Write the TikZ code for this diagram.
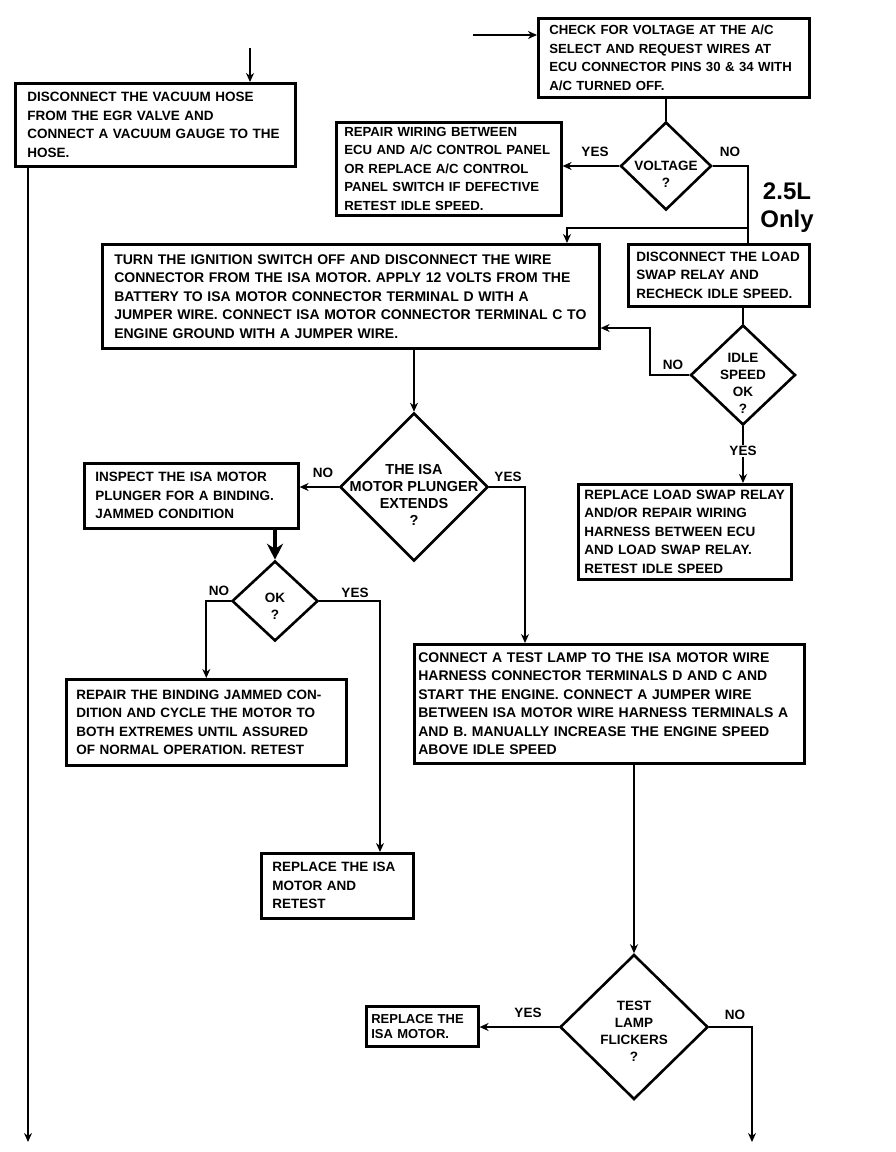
\documentclass[tikz,border=0pt]{standalone}
\usepackage{fontspec}
\setmainfont{Liberation Sans}
\usetikzlibrary{shapes.geometric, arrows.meta}
\usetikzlibrary{calc}
\newcommand{\boxfont}[1]{\fontsize{#1}{18.5}\selectfont\bfseries}
\tikzstyle{stepbox} = [draw=black, line width=2.6pt, anchor=north west, inner xsep=8pt, inner ysep=2pt, align=left, font=\boxfont{13.5}]
\tikzstyle{decision} = [diamond, draw=black, line width=2.6pt, inner sep=0pt]
\tikzstyle{dec_text} = [align=center, inner sep=0pt, font=\fontsize{13.5}{17}\selectfont\bfseries]
\tikzstyle{answer} = [font=\fontsize{13.5}{14}\selectfont\bfseries]
\tikzstyle{line} = [line width=1.9pt]
\tikzstyle{arrow} = [line width=1.9pt,-{Stealth[length=9pt,width=8pt]}]

\begin{document}
\begin{tikzpicture}[x=1pt, y=-1pt]
        \useasboundingbox (0,0) rectangle (896,1152);

        % boxes
        \node (vac) at (14,82) [stepbox, inner xsep=12pt, text width=256pt, minimum height=83pt]
            {DISCONNECT THE VACUUM HOSE\\FROM THE EGR VALVE AND\\CONNECT A VACUUM GAUGE TO THE\\HOSE.};
        \node (check) at (537,17) [stepbox, inner xsep=11pt, text width=249pt, minimum height=79pt, font=\boxfont{13.2}]
            {CHECK FOR VOLTAGE AT THE A/C\\SELECT AND REQUEST WIRES AT\\ECU CONNECTOR PINS 30 \& 34 WITH\\A/C TURNED OFF.};
        \node (wiring) at (335,121) [stepbox, text width=209pt, minimum height=93pt, font=\boxfont{13.2}]
            {REPAIR WIRING BETWEEN\\ECU AND A/C CONTROL PANEL\\OR REPLACE A/C CONTROL\\PANEL SWITCH IF DEFECTIVE\\RETEST IDLE SPEED.};
        \node (isa) at (101,243) [stepbox, inner xsep=12pt, text width=473pt, minimum height=104pt, font=\boxfont{14}]
            {TURN THE IGNITION SWITCH OFF AND DISCONNECT THE WIRE\\CONNECTOR FROM THE ISA MOTOR. APPLY 12 VOLTS FROM THE\\BATTERY TO ISA MOTOR CONNECTOR TERMINAL D WITH A\\JUMPER WIRE. CONNECT ISA MOTOR CONNECTOR TERMINAL C TO\\ENGINE GROUND WITH A JUMPER WIRE.};
        \node (load) at (627,243) [stepbox, text width=165pt, minimum height=62pt]
            {DISCONNECT THE LOAD\\SWAP RELAY AND\\RECHECK IDLE SPEED.};
        \node (relay) at (577,483) [stepbox, inner xsep=6pt, text width=201pt, minimum height=95pt]
            {REPLACE LOAD SWAP RELAY\\AND/OR REPAIR WIRING\\HARNESS BETWEEN ECU\\AND LOAD SWAP RELAY.\\RETEST IDLE SPEED};
        \node (inspect) at (83,462) [stepbox, inner xsep=11pt, text width=192pt, minimum height=65pt]
            {INSPECT THE ISA MOTOR\\PLUNGER FOR A BINDING.\\JAMMED CONDITION};
        \node (binding) at (65,678) [stepbox, inner xsep=10pt, text width=260pt, minimum height=86pt]
            {REPAIR THE BINDING JAMMED CON-\\DITION AND CYCLE THE MOTOR TO\\BOTH EXTREMES UNTIL ASSURED\\OF NORMAL OPERATION. RETEST};
        \node (replisa) at (260,852) [stepbox, inner xsep=11pt, text width=130pt, minimum height=65pt]
            {REPLACE THE ISA\\MOTOR AND\\RETEST};
        \node (lamp) at (413,643) [stepbox, inner xsep=4pt, text width=382pt, minimum height=119pt, font=\boxfont{14}]
            {CONNECT A TEST LAMP TO THE ISA MOTOR WIRE\\HARNESS CONNECTOR TERMINALS D AND C AND\\START THE ENGINE. CONNECT A JUMPER WIRE\\BETWEEN ISA MOTOR WIRE HARNESS TERMINALS A\\AND B. MANUALLY INCREASE THE ENGINE SPEED\\ABOVE IDLE SPEED};
        \node (motor) at (365,1005) [stepbox, inner xsep=5pt, text width=102pt, minimum height=40pt, font=\fontsize{13}{15}\selectfont\bfseries]
            {REPLACE THE\\ISA MOTOR.};

        % decisions
        \node (volt) at (666,166) [decision, minimum width=91pt, minimum height=88pt] {};
        \node (volt_t) at (666,174) [dec_text] {VOLTAGE\\?};
        \node (idle) at (743,375) [decision, minimum width=105pt, minimum height=100pt] {};
        \node (idle_t) at (743,383) [dec_text] {IDLE\\SPEED\\OK\\?};
        \node (plunger) at (414,487) [decision, minimum width=148pt, minimum height=148pt] {};
        \node (plunger_t) at (414,495) [dec_text, font=\fontsize{14.5}{17}\selectfont\bfseries] {THE ISA\\MOTOR PLUNGER\\EXTENDS\\?};
        \node (ok) at (275,601) [decision, minimum width=86pt, minimum height=80pt] {};
        \node (ok_t) at (275,606) [dec_text] {OK\\?};
        \node (flick) at (634,1027) [decision, minimum width=148pt, minimum height=145pt] {};
        \node (flick_t) at (634,1031) [dec_text] {TEST\\LAMP\\FLICKERS\\?};

        \node (only) at (787,208) [align=center, font=\fontsize{24}{28}\selectfont\bfseries] {2.5L\\Only};

        % free ends and bends
        \coordinate (in_vac) at (250,48);
        \coordinate (in_check) at (473,35);
        \coordinate (out_left) at (28,1142);
        \coordinate (out_right) at (752,1142);
        \coordinate (split) at (748,228);
        \coordinate (to_isa) at (567,228);
        \coordinate (idle_back) at (650,328);
        \coordinate (plunger_bend) at (525,487);
        \coordinate (ok_bend) at (380,601);

        \draw[arrow] (in_vac) -- (in_vac |- vac.north);
        \draw[arrow] (out_left |- vac.south) -- (out_left);
        \draw[arrow] (in_check) -- (in_check -| check.west);

        \draw[line] (volt.north |- check.south) -- (volt.north);
        \draw[arrow] (volt.west) -- (volt.west -| wiring.east);
        \draw[line] (volt.east) -| (split) -- (split |- load.north);
        \draw[arrow] (split) -- (to_isa) -- (to_isa |- isa.north);

        \draw[line] (idle.north |- load.south) -- (idle.north);
        \draw[arrow] (idle.west) -| (idle_back) -- (idle_back -| isa.east);
        \draw[arrow] (idle.south) -- (idle.south |- relay.north);

        \draw[arrow] (plunger.north |- isa.south) -- (plunger.north);
        \draw[arrow] (plunger.west) -- (plunger.west -| inspect.east);
        \draw[arrow] (plunger.east) -- (plunger_bend) -- (plunger_bend |- lamp.north);

        \draw[line width=4pt, -{Stealth[length=16pt,width=16pt]}] (ok.north |- inspect.south) -- (ok.north);
        \draw[arrow] (ok.west) -| (binding.north);
        \draw[arrow] (ok.east) -- (ok_bend) -- (ok_bend |- replisa.north);

        \draw[arrow] (flick.north |- lamp.south) -- (flick.north);
        \draw[arrow] (flick.west) -- (flick.west -| motor.east);
        \draw[arrow] (flick.east) -| (out_right);

        % answers
        \node (volt_yes) at (595,152) [answer] {YES};
        \node (volt_no) at (730,152) [answer] {NO};
        \node (idle_no) at (673,365) [answer] {NO};
        \node (idle_yes) at (743,451) [answer, fill=white, inner sep=1pt] {YES};
        \node (plunger_no) at (323,473) [answer] {NO};
        \node (plunger_yes) at (508,477) [answer] {YES};
        \node (ok_no) at (219,591) [answer] {NO};
        \node (ok_yes) at (355,593) [answer] {YES};
        \node (flick_yes) at (528,1013) [answer] {YES};
        \node (flick_no) at (735,1015) [answer] {NO};
    \end{tikzpicture}
\end{document}
